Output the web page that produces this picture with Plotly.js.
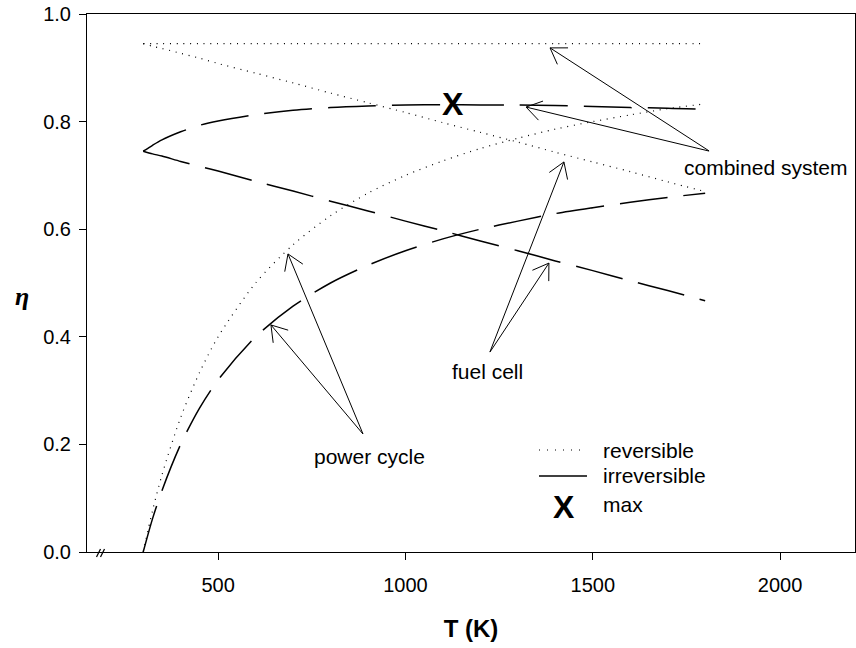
<!DOCTYPE html>
<html>
<head>
<meta charset="utf-8">
<script src="https://cdn.plot.ly/plotly-3.0.1.min.js"></script>
<style>html,body{margin:0;padding:0;background:#fff;}#chart{width:856px;height:648px;}</style>
</head>
<body>
<div id="chart"></div>
<script>
// ---- data ----
const T = [300, 325, 350, 400, 450, 500, 600, 700, 800, 900, 1000, 1100, 1200, 1300, 1400, 1500, 1600, 1700, 1800];
const powerCycleRev = [0, 0.077, 0.143, 0.25, 0.333, 0.4, 0.5, 0.571, 0.625, 0.667, 0.7, 0.727, 0.75, 0.769, 0.786, 0.8, 0.8125, 0.824, 0.833];
const powerCycleIrr = [0, 0.062, 0.114, 0.2, 0.267, 0.32, 0.4, 0.457, 0.5, 0.533, 0.56, 0.582, 0.6, 0.615, 0.629, 0.64, 0.65, 0.659, 0.667];
const fuelCellRev = [0.945, 0.940, 0.936, 0.927, 0.918, 0.908, 0.890, 0.872, 0.853, 0.835, 0.817, 0.798, 0.780, 0.762, 0.743, 0.725, 0.707, 0.688, 0.670];
const fuelCellIrr = [0.745, 0.740, 0.736, 0.726, 0.717, 0.708, 0.689, 0.671, 0.652, 0.634, 0.615, 0.597, 0.578, 0.560, 0.541, 0.523, 0.504, 0.486, 0.467];
const combinedRev = [0.945, 0.945, 0.945, 0.945, 0.945, 0.945, 0.945, 0.945, 0.945, 0.945, 0.945, 0.945, 0.945, 0.945, 0.945, 0.945, 0.945, 0.945, 0.945];
const combinedIrr = [0.745, 0.756, 0.766, 0.781, 0.793, 0.801, 0.813, 0.821, 0.826, 0.829, 0.831, 0.8315, 0.831, 0.831, 0.830, 0.828, 0.826, 0.825, 0.8225];
const maxT = [1126];
const maxEta = [0.827];
const xTicks = [500, 1000, 1500, 2000];
const yTicks = [0, 0.2, 0.4, 0.6, 0.8, 1.0];
const legendLabels = ['reversible', 'irreversible', 'max'];
const seriesLabels = ['combined system', 'fuel cell', 'power cycle'];

// ---- layout constants ----
const W = 856, H = 648;
const L = 87, R = 855, TOP = 14, BOT = 552;
const XR = [150, 2200], YR = [0, 1];
const FONT = 'Liberation Sans, Arial, Helvetica, sans-serif';
const DOT = '1px,5.7px';
const LDASH = '48px,16px';

function px(t) { return L + (t - XR[0]) * (R - L) / (XR[1] - XR[0]); }
function py(e) { return BOT - (e - YR[0]) * (BOT - TOP) / (YR[1] - YR[0]); }
function pp(x, y) { return ((x - L) / (R - L)).toFixed(5) + ',' + ((BOT - y) / (BOT - TOP)).toFixed(5); }

function line(y, name, dash, w) {
  return {x: T, y: y, name: name, type: 'scatter', mode: 'lines', showlegend: false,
    line: {color: '#000', width: w, dash: dash, shape: 'spline', smoothing: 0.8}, hoverinfo: 'skip'};
}

const traces = [
  line(combinedRev, 'combined system reversible', DOT, 1.2),
  line(combinedIrr, 'combined system irreversible', LDASH, 1.5),
  line(fuelCellRev, 'fuel cell reversible', DOT, 1.2),
  line(fuelCellIrr, 'fuel cell irreversible', LDASH, 1.5),
  line(powerCycleRev, 'power cycle reversible', DOT, 1.2),
  line(powerCycleIrr, 'power cycle irreversible', LDASH, 1.5),
  {x: maxT, y: maxEta, type: 'scatter', mode: 'text', text: ['<b>X</b>'], textposition: 'middle center',
   textfont: {family: FONT, size: 32, color: '#000'}, showlegend: false, hoverinfo: 'skip', name: 'max'}
];

// arrows: tip in data coords, tail offset in px
const arrows = [
  {t: 1386, e: 0.937, dx: 159, dy: 103},
  {t: 1322, e: 0.827, dx: 183, dy: 44},
  {t: 1423, e: 0.725, dx: -74, dy: 190},
  {t: 1383, e: 0.537, dx: -59, dy: 89},
  {t: 686.5, e: 0.554, dx: 75, dy: 180},
  {t: 641, e: 0.422, dx: 92, dy: 109}
];
const shapes = [];
const HEAD = 18, ANG = 33 * Math.PI / 180;
arrows.forEach(a => {
  const x = px(a.t), y = py(a.e);
  const tx = x + a.dx, ty = y + a.dy;
  const len = Math.hypot(a.dx, a.dy);
  const ux = a.dx / len, uy = a.dy / len;
  const r = (ang) => [x + HEAD * (ux * Math.cos(ang) - uy * Math.sin(ang)), y + HEAD * (ux * Math.sin(ang) + uy * Math.cos(ang))];
  const a1 = r(ANG), a2 = r(-ANG);
  shapes.push({type: 'path', xref: 'paper', yref: 'paper',
    path: 'M' + pp(tx, ty) + 'L' + pp(x, y) + 'M' + pp(a1[0], a1[1]) + 'L' + pp(x, y) + 'L' + pp(a2[0], a2[1]),
    line: {color: '#000', width: 1}});
});
// axis break marks
shapes.push({type: 'path', xref: 'paper', yref: 'paper', path: 'M' + pp(96.5, 557) + 'L' + pp(100.5, 549), line: {color: '#000', width: 1.3}});
shapes.push({type: 'path', xref: 'paper', yref: 'paper', path: 'M' + pp(100.5, 557) + 'L' + pp(104.5, 549), line: {color: '#000', width: 1.3}});
// legend samples
shapes.push({type: 'line', xref: 'x', yref: 'y', x0: 1356.5, x1: 1484.6, y0: 0.1896, y1: 0.1896, line: {color: '#000', width: 1.2, dash: '1px,7px'}});
shapes.push({type: 'line', xref: 'x', yref: 'y', x0: 1356.5, x1: 1484.6, y0: 0.1413, y1: 0.1413, line: {color: '#000', width: 1.5}});

const tf = {family: FONT, size: 21, color: '#000'};
const annotations = [
  {x: 1961, y: 0.714, xref: 'x', yref: 'y', text: seriesLabels[0], showarrow: false, font: tf, xanchor: 'center', yanchor: 'middle'},
  {x: 1219, y: 0.335, xref: 'x', yref: 'y', text: seriesLabels[1], showarrow: false, font: tf, xanchor: 'center', yanchor: 'middle'},
  {x: 903, y: 0.177, xref: 'x', yref: 'y', text: seriesLabels[2], showarrow: false, font: tf, xanchor: 'center', yanchor: 'middle'},
  {x: 1522, y: 0.1896, xref: 'x', yref: 'y', text: legendLabels[0], showarrow: false, font: tf, xanchor: 'left', yanchor: 'middle'},
  {x: 1522, y: 0.1413, xref: 'x', yref: 'y', text: legendLabels[1], showarrow: false, font: tf, xanchor: 'left', yanchor: 'middle'},
  {x: 1522, y: 0.0892, xref: 'x', yref: 'y', text: legendLabels[2], showarrow: false, font: tf, xanchor: 'left', yanchor: 'middle'},
  {x: 1423, y: 0.0836, xref: 'x', yref: 'y', text: '<b>X</b>', showarrow: false, font: {family: FONT, size: 32, color: '#000'}, xanchor: 'center', yanchor: 'middle'},
  {x: (22 - L) / (R - L), y: (BOT - 296) / (BOT - TOP), xref: 'paper', yref: 'paper', text: '<b><i>η</i></b>', showarrow: false,
   font: {family: 'Liberation Serif, Times New Roman, serif', size: 26, color: '#000'}, xanchor: 'center', yanchor: 'middle'}
];

const layout = {
  width: W, height: H,
  margin: {l: L, r: W - R, t: TOP, b: H - BOT, pad: 0},
  paper_bgcolor: '#fff', plot_bgcolor: '#fff',
  font: {family: FONT, size: 20, color: '#000'},
  showlegend: false,
  xaxis: {range: XR, tickvals: xTicks, ticktext: xTicks.map(String), ticks: 'outside', ticklen: 7, tickwidth: 1, tickcolor: '#000',
    showline: true, linecolor: '#000', linewidth: 1, mirror: true, showgrid: false, zeroline: false,
    tickfont: {family: FONT, size: 20, color: '#000'}, ticklabelstandoff: 8,
    title: {text: '<b>T (K)</b>', font: {family: FONT, size: 24, color: '#000'}, standoff: 25}, automargin: false},
  yaxis: {range: YR, tickvals: yTicks, ticktext: yTicks.map(v => v.toFixed(1)), ticks: 'outside', ticklen: 7, tickwidth: 1, tickcolor: '#000',
    showline: true, linecolor: '#000', linewidth: 1, mirror: true, showgrid: false, zeroline: false,
    tickfont: {family: FONT, size: 20, color: '#000'}, ticklabelstandoff: 4, automargin: false, title: {text: ''}},
  shapes: shapes,
  annotations: annotations
};

Plotly.newPlot('chart', traces, layout, {staticPlot: true, displayModeBar: false});
</script>
</body>
</html>
